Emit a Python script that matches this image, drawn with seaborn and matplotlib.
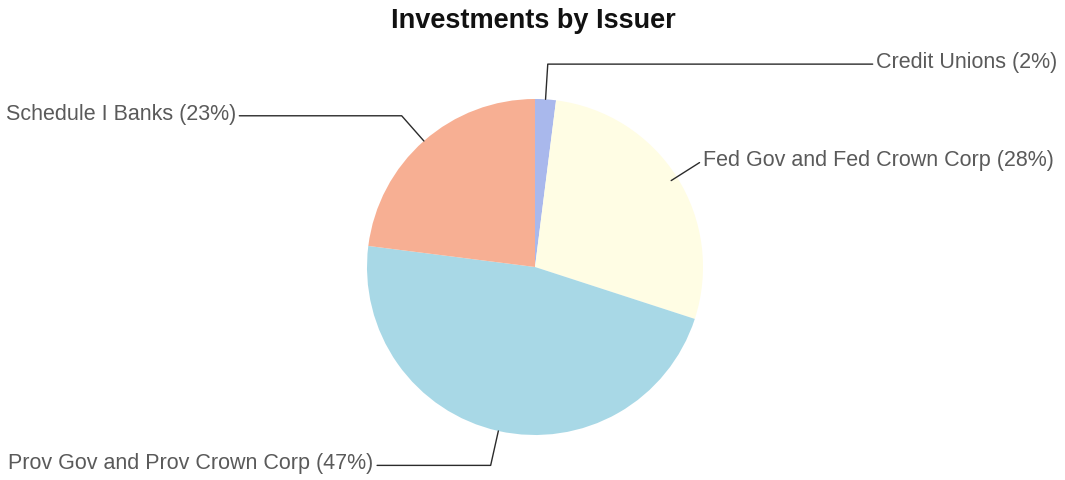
import numpy as np
import matplotlib
matplotlib.use("Agg")
import matplotlib.pyplot as plt
import seaborn as sns

# Portfolio breakdown by issuer (percent of total investments)
issuers = [
    "Credit Unions",
    "Fed Gov and Fed Crown Corp",
    "Prov Gov and Prov Crown Corp",
    "Schedule I Banks",
]
shares = [2, 28, 47, 23]
slice_colors = ["#a9b8ec", "#fffde4", "#a8d8e6", "#f7af93"]

sns.set_theme(style="white")
plt.rcParams["font.family"] = ["Liberation Sans", "DejaVu Sans"]

fig = plt.figure(figsize=(10.65, 4.8), dpi=100)
fig.patch.set_facecolor("white")

# square axes holding a unit-radius pie
cx, cy, r_px = 535 / 1065, 1 - 267 / 480, 168
ax = fig.add_axes([cx - r_px / 1065, cy - r_px / 480, 2 * r_px / 1065, 2 * r_px / 480])
palette = sns.color_palette(slice_colors)
wedges, _ = ax.pie(
    shares,
    colors=palette,
    startangle=90,
    counterclock=False,
    radius=1.0,
    wedgeprops=dict(linewidth=0),
)
ax.set_xlim(-1, 1)
ax.set_ylim(-1, 1)
ax.set_aspect("equal")
ax.axis("off")

# leader-line layout: (elbow radius, label x, side, straight diagonal?)
layout = {
    "Credit Unions": (1.21, 2.01, "left", False),
    "Fed Gov and Fed Crown Corp": (1.16, 0.98, "left", True),
    "Prov Gov and Prov Crown Corp": (1.21, -0.94, "right", False),
    "Schedule I Banks": (1.20, -1.76, "right", False),
}

line_kw = dict(color="#2b2b2b", linewidth=1.0, clip_on=False)
text_kw = dict(fontsize=15.5, color="#5a5a5a", va="center", clip_on=False)

for w, name, pct in zip(wedges, issuers, shares):
    mid = np.deg2rad((w.theta1 + w.theta2) / 2)
    ex, ey = np.cos(mid), np.sin(mid)
    r_elbow, lx, ha, straight = layout[name]
    bx, by = r_elbow * np.cos(mid), r_elbow * np.sin(mid)
    label = f"{name} ({pct}%)"
    if straight:
        ax.plot([0.96 * ex, bx], [0.96 * ey, by], **line_kw)
        ax.text(bx + 0.02, by + 0.01, label, ha="left", **text_kw)
    else:
        ax.plot([ex, bx, lx], [ey, by, by], **line_kw)
        pad = 0.02 if ha == "left" else -0.02
        ax.text(lx + pad, by + 0.01, label, ha=ha, **text_kw)

fig.text(533 / 1065, 1 - 21 / 480, "Investments by Issuer",
         ha="center", va="center", fontsize=19.5, fontweight="bold", color="#111111")

fig.savefig("out.png", dpi=100, facecolor="white")
